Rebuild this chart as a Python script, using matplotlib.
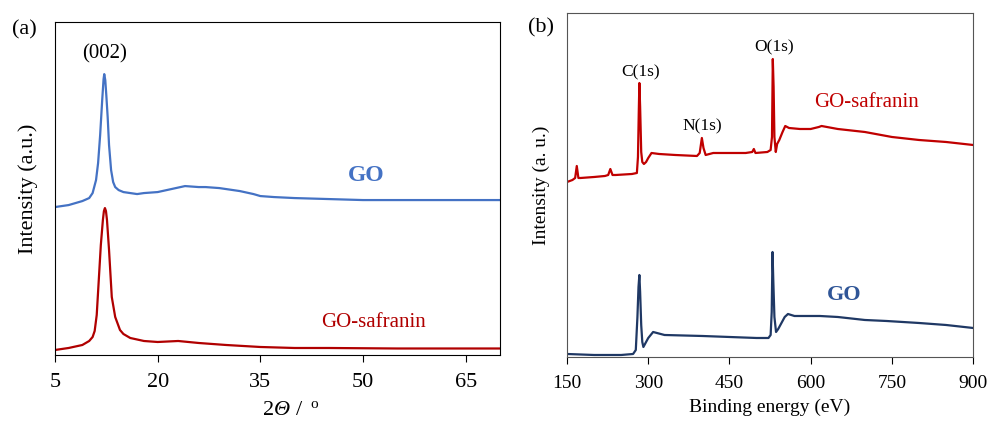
import matplotlib.pyplot as plt

plt.rcParams['font.family'] = ['Liberation Serif', 'DejaVu Serif']

# (a) XRD, intensity in arbitrary units
xrd_angle_go = [5, 6, 7, 8, 9, 10, 10.5, 11, 11.3, 11.6, 11.9, 12.1, 12.2, 12.35, 12.5, 12.7,
                12.9, 13.2, 13.5, 13.8, 14.3, 15, 16, 17, 18, 20, 22, 24, 26, 27, 29, 30, 32,
                34, 35, 37, 40, 45, 50, 55, 60, 65, 70]
xrd_go = [148, 149, 150, 152, 154, 157, 162, 175, 192, 220, 255, 276, 281, 275, 260, 238,
          210, 185, 173, 168, 165, 163, 162, 161, 162, 163, 166, 169, 168, 168, 167, 166, 164,
          161, 159, 158, 157, 156, 155, 155, 155, 155, 155]

xrd_angle_saf = [5, 7, 9, 10, 10.5, 10.8, 11.1, 11.4, 11.7, 12.0, 12.15, 12.3, 12.45, 12.6,
                 12.9, 13.3, 13.8, 14.5, 15, 16, 18, 20, 23, 26, 30, 35, 40, 45, 55, 70]
xrd_saf = [5, 7, 10, 14, 18, 24, 40, 75, 110, 135, 144, 147, 144, 135, 105, 58, 38, 25,
           21, 17, 14, 13, 14, 12, 10, 8, 7, 7, 6.5, 6.5]

# (b) XPS survey
xps_energy_saf = [150, 160, 165, 168, 171, 175, 200, 220, 226, 230, 234, 240, 270, 279, 281,
                  282.5, 283.6, 285, 287, 289, 292, 296, 300, 306, 320, 350, 390, 395, 399,
                  402, 406, 420, 450, 480, 492, 495, 498, 520, 526, 528.5, 530, 531.5, 533,
                  535.5, 538, 542, 548, 553, 560, 580, 600, 615, 620, 630, 650, 700, 750,
                  800, 850, 900]
xps_saf = [175, 177, 179, 191, 179, 179, 180, 181, 182, 188, 182, 182, 183, 184, 200,
           245, 274, 250, 205, 195, 193, 195, 199, 204, 203, 202, 201, 204, 219,
           209, 202, 204, 204, 204, 205, 208, 204, 205, 207, 220, 298, 270, 220,
           205, 213, 217, 225, 231, 229, 228, 228, 230, 231, 230, 228, 225, 220,
           217, 215, 212]

xps_energy_go = [150, 200, 250, 272, 277, 280, 282, 283.6, 285, 287, 289, 291, 295, 300,
                 309, 330, 400, 450, 500, 522, 526, 528, 529.5, 531, 533, 536, 540, 545,
                 552, 558, 570, 600, 617, 650, 700, 740, 800, 850, 900]
xps_go = [3, 2, 2, 3, 7, 40, 70, 82, 65, 32, 15, 10, 14, 19, 25, 22, 21, 20, 19, 19,
          22, 45, 105, 75, 40, 25, 28, 33, 40, 43, 41, 41, 41, 40, 37, 36, 34, 32, 29]

W, H = 992, 426
fig = plt.figure(figsize=(W / 100, H / 100), dpi=100)

ax1 = fig.add_axes([0.0554, 0.1667, 0.4486, 0.7813])
ax1.plot(xrd_angle_go, xrd_go, color='#4472C4', lw=1.6)
ax1.plot(xrd_angle_saf, xrd_saf, color='#B00000', lw=1.6)
ax1.set_xlim(5, 70)
ax1.set_ylim(0, 333)
ax1.set_xticks([5, 20, 35, 50, 65])
ax1.set_yticks([])
ax1.tick_params(axis='x', direction='out', length=5, labelsize=16, pad=8)
ax1.set_ylabel('Intensity (a.u.)', fontsize=16, labelpad=12)
ax1.text(12.2, 292, '(002)', fontsize=15, ha='center', va='bottom')
ax1.text(50.5, 180, 'GO', fontsize=17, fontweight='bold', color='#4472C4', ha='center', va='center')
ax1.text(51.5, 33, 'GO-safranin', fontsize=15, color='#B00000', ha='center', va='center')
fig.text(0.012, 0.93, '(a)', fontsize=16, ha='left', va='center')

# x label "2Θ / °" with italic theta, built from pieces
base = 1 - 415 / H
fig.text(263 / W, base, '2', fontsize=16, va='baseline')
fig.text(274 / W, base, 'Θ', fontsize=16, style='italic', va='baseline')
fig.text(296 / W, base, '/', fontsize=16, va='baseline')
fig.text(310 / W, 1 - 408 / H, 'o', fontsize=11, va='baseline')

ax2 = fig.add_axes([0.5716, 0.162, 0.4094, 0.8075])
ax2.plot(xps_energy_saf, xps_saf, color='#C00000', lw=1.6)
ax2.plot(xps_energy_go, xps_go, color='#1F3864', lw=1.6)
ax2.set_xlim(150, 900)
ax2.set_ylim(0, 344)
ax2.set_xticks([150, 300, 450, 600, 750, 900])
ax2.set_yticks([])
for s in ax2.spines.values():
    s.set_color('#555555')
ax2.tick_params(axis='x', direction='out', length=5, labelsize=14, pad=8)
ax2.set_xlabel('Binding energy (eV)', fontsize=14, labelpad=5)
ax2.set_ylabel('Intensity (a. u.)', fontsize=14, labelpad=12)
ax2.text(286, 277, 'C(1s)', fontsize=12.5, ha='center', va='bottom')
ax2.text(400, 223, 'N(1s)', fontsize=12.5, ha='center', va='bottom')
ax2.text(532, 302, 'O(1s)', fontsize=12.5, ha='center', va='bottom')
ax2.text(703, 254, 'GO-safranin', fontsize=15, color='#C00000', ha='center', va='center')
ax2.text(662, 62, 'GO', fontsize=16, fontweight='bold', color='#2F5597', ha='center', va='center')
fig.text(0.532, 0.935, '(b)', fontsize=16, ha='left', va='center')

fig.savefig('out.png', dpi=100)
